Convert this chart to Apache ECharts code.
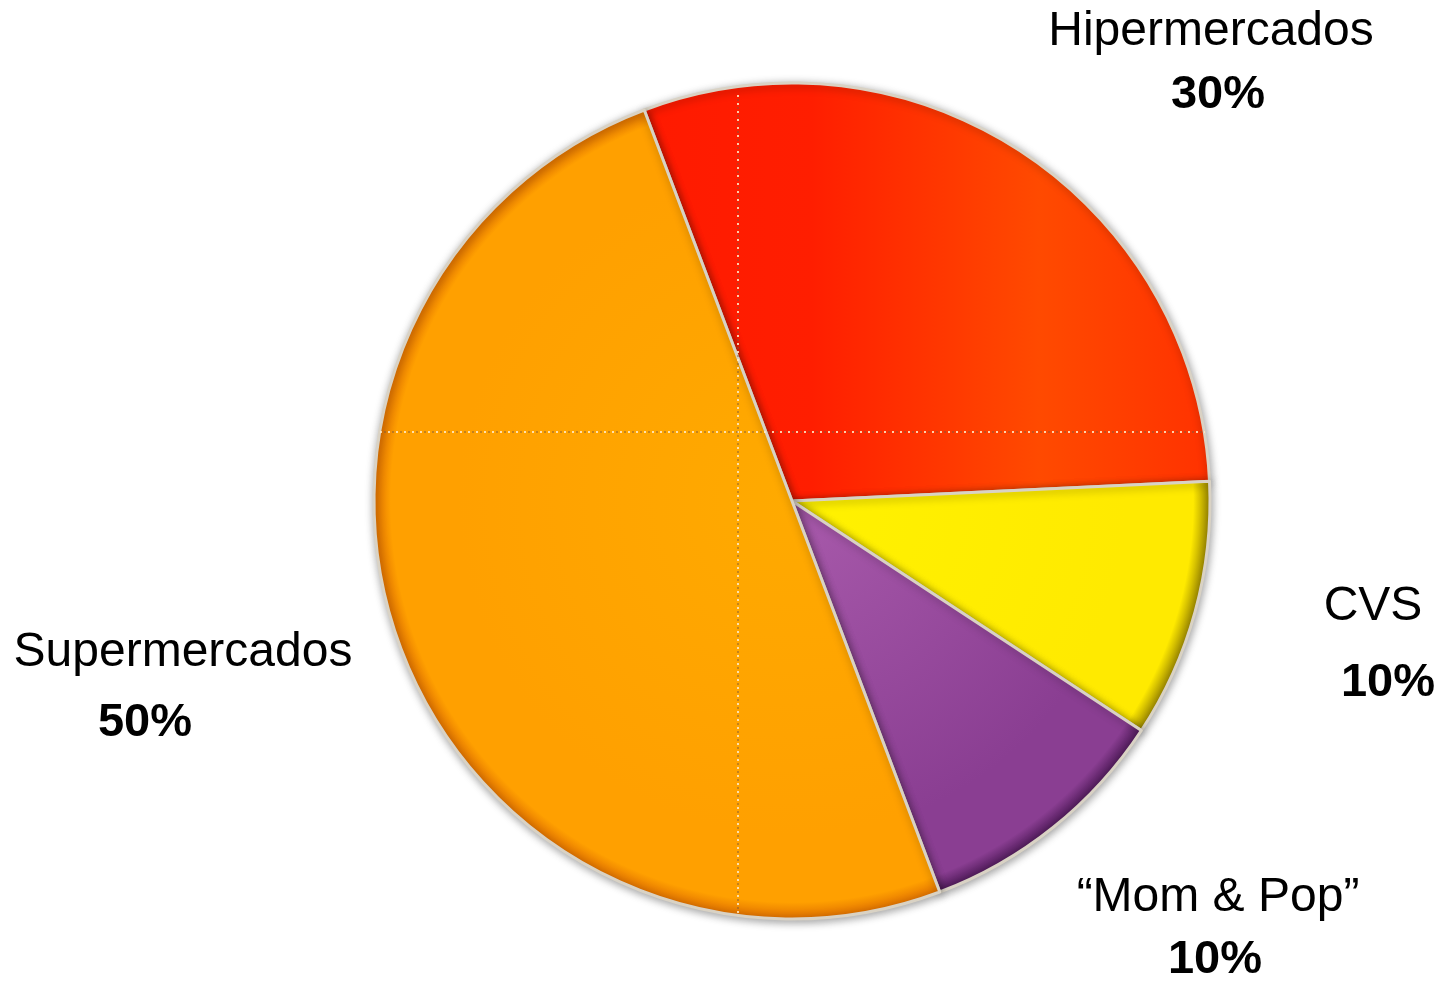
<!DOCTYPE html>
<html>
<head>
<meta charset="utf-8">
<script src="https://cdn.jsdelivr.net/npm/echarts@6/dist/echarts.min.js"></script>
<style>
html,body{margin:0;padding:0;background:#fff;}
#chart{width:1451px;height:982px;}
</style>
</head>
<body>
<div id="chart"></div>
<script>
const categories = ['Hipermercados', 'CVS', '\u201CMom & Pop\u201D', 'Supermercados'];
const values = [30, 10, 10, 50];

const CX = 792, CY = 501, R = 418;
function radial(c0, c1, c2) {
  return {
    type: 'radial', x: CX, y: CY, r: R, global: true,
    colorStops: [
      { offset: 0, color: c0 },
      { offset: 0.8, color: c1 },
      { offset: 0.96, color: c1 },
      { offset: 1, color: c2 }
    ]
  };
}
const fills = [
  { type: 'linear', x: 640, y: 0, x2: 1210, y2: 0, global: true,
    colorStops: [{ offset: 0, color: '#ff1a00' }, { offset: 0.3, color: '#ff1e00' }, { offset: 0.7, color: '#ff4a00' }, { offset: 1, color: '#ff3200' }] },
  radial('#fff200', '#ffea00', '#9a8600'),
  radial('#a85aab', '#8a3e92', '#4e1a58'),
  radial('#ffaa00', '#ffa000', '#e07000')
];

// label positions (layout only)
const labelPos = [
  { nx: 1211, ny: 32, px: 1218, py: 95 },
  { nx: 1373, ny: 607, px: 1388, py: 683 },
  { nx: 1218, ny: 898, px: 1215, py: 960 },
  { nx: 183, ny: 653, px: 145, py: 723 }
];

const total = values.reduce((a, b) => a + b, 0);
const texts = [];
categories.forEach((c, i) => {
  const lp = labelPos[i];
  texts.push({
    type: 'text', x: lp.nx, y: lp.ny, z: 200,
    style: { text: c, font: '48px "Liberation Sans", Arial, sans-serif', fill: '#000', textAlign: 'center', textVerticalAlign: 'middle' }
  });
  texts.push({
    type: 'text', x: lp.px, y: lp.py, z: 200,
    style: { text: Math.round(values[i] / total * 100) + '%', font: 'bold 47px "Liberation Sans", Arial, sans-serif', fill: '#000', textAlign: 'center', textVerticalAlign: 'middle' }
  });
});

function dotted(x1, y1, x2, y2) {
  return [
    { type: 'line', z: 100, shape: { x1, y1, x2, y2 }, style: { stroke: 'rgba(255,235,200,0.85)', lineWidth: 2, lineDash: [2, 6] } },
    { type: 'line', z: 101, shape: { x1, y1, x2, y2 }, style: { stroke: 'rgba(120,90,60,0.6)', lineWidth: 1.5, lineDash: [2, 6], lineDashOffset: 4 } }
  ];
}

const chart = echarts.init(document.getElementById('chart'));
chart.setOption({
  backgroundColor: '#fff',
  animation: false,
  graphic: dotted(738, 95, 738, 915).concat(dotted(380, 432, 1205, 432)).concat(texts),
  series: [{
    type: 'pie',
    center: [CX, CY],
    radius: [0, R],
    startAngle: 110.7,
    clockwise: true,
    label: { show: false },
    labelLine: { show: false },
    itemStyle: {
      borderColor: '#d9d2c4',
      borderWidth: 3,
      shadowBlur: 8,
      shadowColor: 'rgba(0,0,0,0.35)',
      shadowOffsetX: 1,
      shadowOffsetY: 2
    },
    data: categories.map((c, i) => ({
      name: c,
      value: values[i],
      itemStyle: { color: fills[i] }
    }))
  }]
});
</script>
</body>
</html>
